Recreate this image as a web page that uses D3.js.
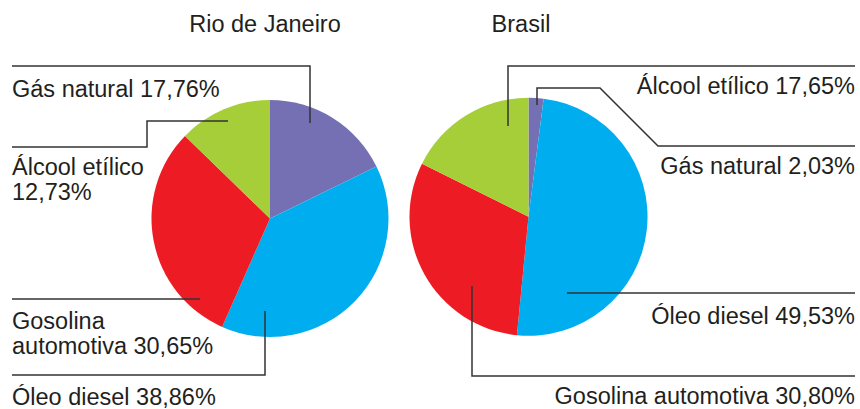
<!DOCTYPE html>
<html>
<head>
<meta charset="utf-8">
<script src="https://cdn.jsdelivr.net/npm/d3@7"></script>
<style>
html,body{margin:0;padding:0;background:#fff;}
svg{display:block;}
text{font-family:"Liberation Sans",Arial,Helvetica,sans-serif;fill:#231f20;}
</style>
</head>
<body>
<svg id="chart" width="860" height="409"></svg>
<script>
// ---- data ----
const categories = ["Gás natural", "Óleo diesel", "Gasolina automotiva", "Álcool etílico"];
const rioValues = [17.76, 38.86, 30.65, 12.73];
const brasilValues = [2.03, 49.53, 30.80, 17.65];
const chartTitles = ["Rio de Janeiro", "Brasil"];
const rioLabels = [
  ["Gás natural 17,76%"],
  ["Óleo diesel 38,86%"],
  ["Gosolina", "automotiva 30,65%"],
  ["Álcool etílico", "12,73%"]
];
const brasilLabels = [
  ["Álcool etílico 17,65%"],
  ["Óleo diesel 49,53%"],
  ["Gosolina automotiva 30,80%"],
  ["Gás natural 2,03%"]
];
const colors = ["#7570b3", "#00aeef", "#ed1c24", "#a6ce39"];

// ---- layout ----
const svg = d3.select("#chart");
const color = d3.scaleOrdinal().domain(categories).range(colors);
const pie = d3.pie().sort(null).startAngle(0).endAngle(2 * Math.PI);
const fontSize = 23.5;
const lineColor = "#333";

const charts = [
  {
    title: chartTitles[0], values: rioValues, labels: rioLabels,
    cx: 270, cy: 218.5, r: 118.5, titleX: 265,
    leaders: [
      [[12, 66], [310, 66], [310, 123]],
      [[12, 375], [265, 375], [265, 311]],
      [[12, 299], [200, 299]],
      [[12, 147], [147, 147], [147, 121], [228, 121]]
    ],
    text: [
      {x: 12, y: 97, anchor: "start"},
      {x: 12, y: 405, anchor: "start"},
      {x: 12, y: 329, anchor: "start"},
      {x: 12, y: 175, anchor: "start"}
    ]
  },
  {
    title: chartTitles[1], values: brasilValues, labels: brasilLabels,
    cx: 528.5, cy: 216.7, r: 119, titleX: 521,
    leaders: [
      [[508, 126], [508, 66], [855, 66]],
      [[567, 293], [855, 293]],
      [[472, 286], [472, 376], [855, 376]],
      [[537, 105], [537, 88], [600, 88], [658, 146], [855, 146]]
    ],
    text: [
      {x: 855, y: 94, anchor: "end"},
      {x: 855, y: 324, anchor: "end"},
      {x: 855, y: 404, anchor: "end"},
      {x: 855, y: 174, anchor: "end"}
    ]
  }
];

const line = d3.line();

charts.forEach(c => {
  const arc = d3.arc().innerRadius(0).outerRadius(c.r);
  const data = categories.map((k, i) => ({key: k, value: c.values[i], i}));
  const arcs = pie.value(d => d.value)(data);

  svg.append("text")
    .attr("x", c.titleX).attr("y", 32)
    .attr("text-anchor", "middle")
    .attr("font-size", fontSize)
    .text(c.title);

  const g = svg.append("g").attr("transform", `translate(${c.cx},${c.cy})`);
  g.selectAll("path.slice").data(arcs).join("path")
    .attr("class", "slice")
    .attr("d", arc)
    .attr("fill", d => color(d.data.key));

  svg.append("g").selectAll("path.leader").data(c.leaders).join("path")
    .attr("class", "leader")
    .attr("d", d => line(d))
    .attr("fill", "none")
    .attr("stroke", lineColor)
    .attr("stroke-width", 1.5);

  c.labels.forEach((lines, i) => {
    const t = c.text[i];
    const te = svg.append("text")
      .attr("x", t.x).attr("y", t.y)
      .attr("text-anchor", t.anchor)
      .attr("font-size", fontSize);
    lines.forEach((s, j) => {
      te.append("tspan").attr("x", t.x).attr("y", t.y + j * 24.5).text(s);
    });
  });
});
</script>
</body>
</html>
